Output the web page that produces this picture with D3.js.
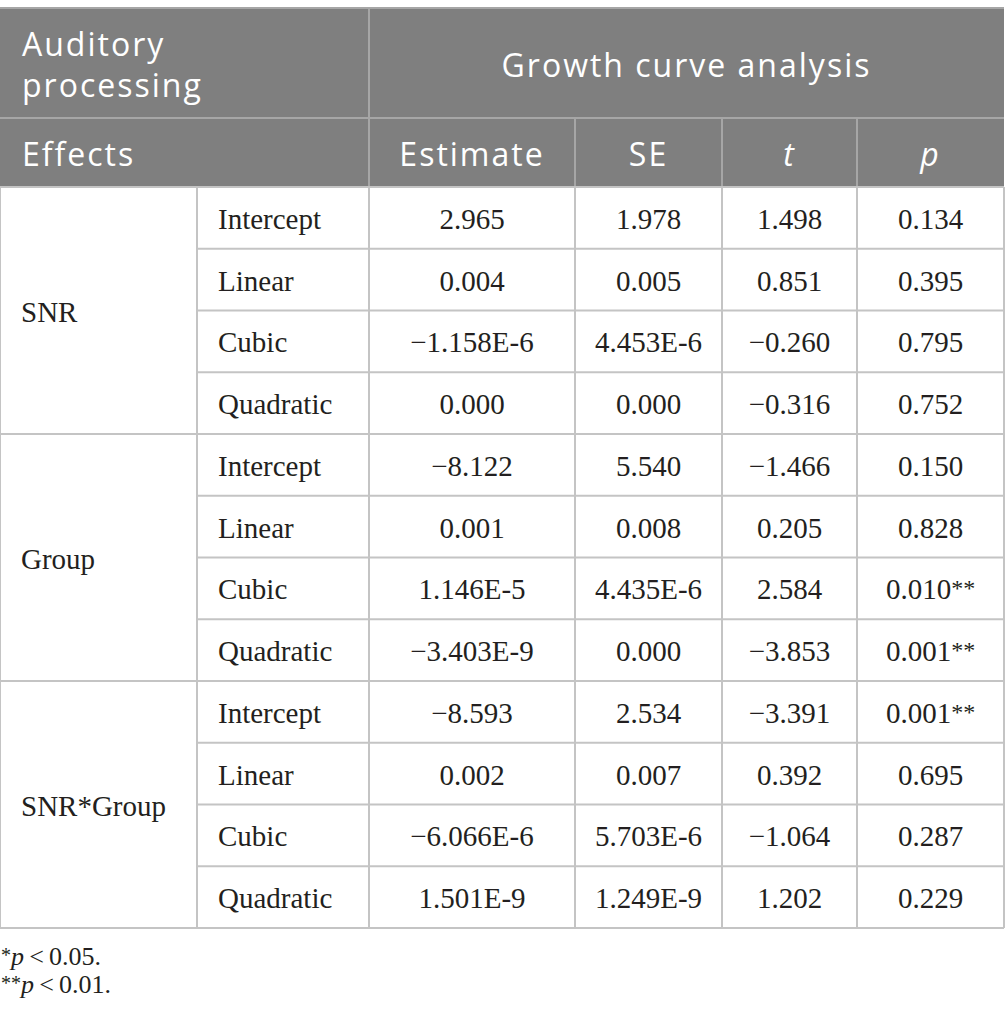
<!DOCTYPE html>
<html>
<head>
<meta charset="utf-8">
<script src="https://cdn.jsdelivr.net/npm/d3@7"></script>
<style>
  body { margin: 0; background: #fff; }
  .hd { font-family: "Open Sans", sans-serif; fill: #fff; }
  .bd { font-family: "Liberation Serif", serif; fill: #231f20; }
</style>
</head>
<body>
<svg id="chart" width="1005" height="1024"></svg>
<script>
// table content
var groups = ["SNR", "Group", "SNR*Group"];
var terms = ["Intercept", "Linear", "Cubic", "Quadratic"];
var estimates = ["2.965", "0.004", "\u22121.158E-6", "0.000",
                 "\u22128.122", "0.001", "1.146E-5", "\u22123.403E-9",
                 "\u22128.593", "0.002", "\u22126.066E-6", "1.501E-9"];
var seVals = ["1.978", "0.005", "4.453E-6", "0.000",
              "5.540", "0.008", "4.435E-6", "0.000",
              "2.534", "0.007", "5.703E-6", "1.249E-9"];
var tVals = ["1.498", "0.851", "\u22120.260", "\u22120.316",
             "\u22121.466", "0.205", "2.584", "\u22123.853",
             "\u22123.391", "0.392", "\u22121.064", "1.202"];
var pVals = ["0.134", "0.395", "0.795", "0.752",
             "0.150", "0.828", "0.010**", "0.001**",
             "0.001**", "0.695", "0.287", "0.229"];
var colHeads = ["Estimate", "SE", "t", "p"];
var notes = [["*", "0.05."], ["**", "0.01."]];

var svg = d3.select("#chart");
var colX = [0, 197, 369, 575, 722, 857, 1004];
var top0 = 8, head1 = 118, head2 = 187, bottom = 928;
var nRows = estimates.length;
var y = d3.scaleLinear().domain([0, nRows]).range([head2, bottom]);
var headBg = "#7f7f7f", headLine = "#a6a6a6", line = "#c4c4c4";

// header background
svg.append("rect").attr("x", 0).attr("y", top0).attr("width", 1004).attr("height", head2 - top0)
  .attr("fill", headBg);
svg.append("line").attr("x1", 0).attr("x2", 1004).attr("y1", top0).attr("y2", top0)
  .attr("stroke", headLine).attr("stroke-width", 2);
svg.append("line").attr("x1", 0).attr("x2", 1004).attr("y1", head1).attr("y2", head1)
  .attr("stroke", headLine).attr("stroke-width", 2);
svg.append("line").attr("x1", colX[2]).attr("x2", colX[2]).attr("y1", top0).attr("y2", head2)
  .attr("stroke", headLine).attr("stroke-width", 2);
[3, 4, 5].forEach(function(i){
  svg.append("line").attr("x1", colX[i]).attr("x2", colX[i]).attr("y1", head1).attr("y2", head2)
    .attr("stroke", headLine).attr("stroke-width", 2);
});

var hs = 32, ls = "2px";
svg.append("text").attr("class", "hd").attr("x", 22).attr("y", 56).attr("font-size", hs)
  .attr("letter-spacing", ls).text("Auditory");
svg.append("text").attr("class", "hd").attr("x", 22).attr("y", 97).attr("font-size", hs)
  .attr("letter-spacing", ls).text("processing");
svg.append("text").attr("class", "hd").attr("x", (colX[2] + colX[6]) / 2).attr("y", 77)
  .attr("font-size", hs).attr("letter-spacing", ls).attr("text-anchor", "middle")
  .text("Growth curve analysis");
svg.append("text").attr("class", "hd").attr("x", 22).attr("y", 166).attr("font-size", hs)
  .attr("letter-spacing", ls).text("Effects");
svg.selectAll("text.colhead").data(colHeads).enter().append("text")
  .attr("class", "hd colhead")
  .attr("x", function(d, i){ return (colX[i + 2] + colX[i + 3]) / 2; })
  .attr("y", 166).attr("font-size", hs).attr("letter-spacing", ls)
  .attr("text-anchor", "middle")
  .attr("font-style", function(d){ return d.length == 1 ? "italic" : null; })
  .text(function(d){ return d; });

// body grid
var g = svg.append("g");
d3.range(nRows + 1).forEach(function(r){
  var x0 = (r % 4 == 0) ? 0 : colX[1];
  g.append("line").attr("x1", x0).attr("x2", 1004).attr("y1", y(r)).attr("y2", y(r))
    .attr("stroke", line).attr("stroke-width", 2);
});
colX.forEach(function(cx){
  g.append("line").attr("x1", cx).attr("x2", cx).attr("y1", head2).attr("y2", bottom)
    .attr("stroke", line).attr("stroke-width", 2);
});

var bs = 29;
g.selectAll("text.grp").data(groups).enter().append("text")
  .attr("class", "bd grp").attr("x", 21)
  .attr("y", function(d, i){ return y(i * 4 + 2) + 11; })
  .attr("font-size", bs)
  .text(function(d){ return d; });

var rows = d3.range(nRows).map(function(i){
  return [terms[i % 4], estimates[i], seVals[i], tVals[i], pVals[i]];
});
rows.forEach(function(row, r){
  g.append("text").attr("class", "bd").attr("x", colX[1] + 21).attr("y", y(r + 0.5) + 11)
    .attr("font-size", bs).text(row[0]);
  row.slice(1).forEach(function(v, c){
    var txt = g.append("text").attr("class", "bd")
      .attr("x", (colX[c + 2] + colX[c + 3]) / 2).attr("y", y(r + 0.5) + 11)
      .attr("font-size", bs).attr("text-anchor", "middle");
    if (v.indexOf("**") > 0) {
      txt.append("tspan").text(v.replace("**", ""));
      txt.append("tspan").attr("font-size", 24).attr("dy", -3).text("**");
    } else {
      txt.text(v);
    }
  });
});

// footnotes
notes.forEach(function(n, i){
  var t = svg.append("text").attr("class", "bd").attr("x", 1).attr("y", 965 + i * 28)
    .attr("font-size", 26);
  t.append("tspan").attr("font-size", 20).attr("dy", -3).text(n[0]);
  t.append("tspan").attr("font-style", "italic").attr("dy", 3).text("p");
  t.append("tspan").text("\u2009<\u2009" + n[1]);
});
</script>
</body>
</html>
